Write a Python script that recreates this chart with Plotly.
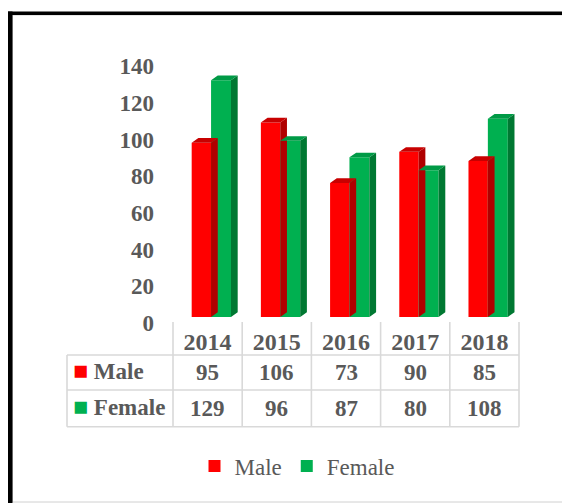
import plotly.graph_objects as go

# ---------------- data ----------------
years = ["2014", "2015", "2016", "2017", "2018"]
male = [95, 106, 73, 90, 85]
female = [129, 96, 87, 80, 108]
series_names = ["Male", "Female"]
y_ticks = [0, 20, 40, 60, 80, 100, 120, 140]

# ---------------- styling / geometry ----------------
PAGE_OFF = 8            # default page margin of the html body
W, H = 570 - PAGE_OFF, 503 - PAGE_OFF
FONT = "Liberation Serif"
GREY = "#595959"
RED, RED_TOP, RED_SIDE = "#FF0000", "#C80000", "#B00000"
GRN, GRN_TOP, GRN_SIDE = "#00B050", "#009A46", "#007832"
LINE = "#D9D9D9"

# pixel mapping (screen pixels of the reference)
X0_PX, X_UNIT = 173.0, 69.2     # screen pixel of x=-0.5, pixels per category
Y0_PX, Y_UNIT = 317.0, 1.835    # screen pixel of y=0, pixels per unit


def xu(px):
    return (px - X0_PX) / X_UNIT - 0.5


def yu(py):
    return (Y0_PX - py) / Y_UNIT


def pxx(px):
    return (px - PAGE_OFF) / W


def pxy(py):
    return 1 - (py - PAGE_OFF) / H


RED_OFF, RED_W = -0.23, 0.28
GRN_OFF, GRN_W = 0.05, 0.288
DX = 6.7 / X_UNIT
DY = 4.7 / Y_UNIT

xs = list(range(len(years)))

fig = go.Figure()


def faces(vals, off, w):
    sx, sy, tx, ty = [], [], [], []
    for c, v in zip(xs, vals):
        xl = c + off
        xr = c + off + w
        sx += [xr, xr, xr + DX, xr + DX, xr, None]
        sy += [0, v, v + DY, DY, 0, None]
        tx += [xl, xr, xr + DX, xl + DX, xl, None]
        ty += [v, v, v + DY, v + DY, v, None]
    return sx, sy, tx, ty


for name, vals, off, w, cf, ct, cs in [
    (series_names[0], male, RED_OFF, RED_W, RED, RED_TOP, RED_SIDE),
    (series_names[1], female, GRN_OFF, GRN_W, GRN, GRN_TOP, GRN_SIDE),
]:
    fig.add_trace(go.Bar(
        x=xs, y=vals, name=name, offset=off, width=w,
        marker=dict(color=cf, line=dict(width=0)), showlegend=True,
    ))
    sx, sy, tx, ty = faces(vals, off, w)
    fig.add_trace(go.Scatter(x=sx, y=sy, mode="lines", fill="toself",
                             fillcolor=cs, line=dict(width=0, color=cs),
                             showlegend=False, hoverinfo="skip"))
    fig.add_trace(go.Scatter(x=tx, y=ty, mode="lines", fill="toself",
                             fillcolor=ct, line=dict(width=0, color=ct),
                             showlegend=False, hoverinfo="skip"))

# ---------------- data table (lines + text) ----------------
x_left = xu(67)
x_right = 4.5
y_top = yu(322)
y_h = yu(355)
y_m = yu(390)
y_f = yu(426.7)

shapes = []
for yy in (y_h, y_m, y_f):
    shapes.append(dict(type="line", xref="x", yref="y", x0=x_left, x1=x_right,
                       y0=yy, y1=yy, line=dict(color=LINE, width=1.6)))
shapes.append(dict(type="line", xref="x", yref="y", x0=x_left, x1=x_left,
                   y0=y_h, y1=y_f, line=dict(color=LINE, width=1.6)))
for k in range(len(years) + 1):
    xx = k - 0.5
    shapes.append(dict(type="line", xref="x", yref="y", x0=xx, x1=xx,
                       y0=y_top, y1=y_f, line=dict(color=LINE, width=1.6)))

# frame
shapes.append(dict(type="rect", xref="paper", yref="paper",
                   x0=pxx(12.5), x1=pxx(567), y0=pxy(15), y1=pxy(502),
                   line=dict(color="#D0D0D0", width=1), layer="below"))
shapes.append(dict(type="rect", xref="paper", yref="paper",
                   x0=pxx(8), x1=pxx(570), y0=pxy(11.5), y1=pxy(15),
                   fillcolor="black", line=dict(width=0)))
shapes.append(dict(type="rect", xref="paper", yref="paper",
                   x0=pxx(8), x1=pxx(12.5), y0=pxy(11.5), y1=pxy(503),
                   fillcolor="black", line=dict(width=0)))

annotations = []
tfont = dict(family=FONT, size=23, color=GREY)
for row_vals, yc in ((male, (y_h + y_m) / 2), (female, (y_m + y_f) / 2)):
    for c, v in zip(xs, row_vals):
        annotations.append(dict(x=c, y=yc, xref="x", yref="y", text=f"<b>{v}</b>",
                                showarrow=False, font=tfont,
                                xanchor="center", yanchor="middle"))
for name, col, yc in ((series_names[0], RED, (y_h + y_m) / 2 + 1.2),
                      (series_names[1], GRN, (y_m + y_f) / 2 + 1.2)):
    annotations.append(dict(
        x=xu(71), y=yc, xref="x", yref="y",
        text=f"<span style='color:{col};font-size:25px'>■</span> <b>{name}</b>",
        showarrow=False, font=tfont, xanchor="left", yanchor="middle"))

fig.update_layout(
    width=W, height=H,
    margin=dict(l=0, r=0, t=0, b=0),
    paper_bgcolor="white", plot_bgcolor="white",
    barmode="overlay",
    xaxis=dict(range=[xu(PAGE_OFF), xu(570)], domain=[0, 1], showgrid=False,
               zeroline=False, showline=False, tickvals=xs,
               ticktext=[f"<b>{y}</b>" for y in years],
               tickfont=dict(family=FONT, size=24, color=GREY),
               anchor="free", position=pxy(325), ticks="", fixedrange=True),
    yaxis=dict(range=[yu(503), yu(PAGE_OFF)], domain=[0, 1], showgrid=False,
               zeroline=False, showline=False, tickvals=y_ticks,
               ticktext=[f"<b>{t}</b>" for t in y_ticks],
               tickfont=dict(family=FONT, size=23, color=GREY),
               anchor="free", position=pxx(154), ticks="", ticklabelshift=6,
               fixedrange=True),
    legend=dict(orientation="h", x=pxx(297), xanchor="center", y=pxy(466),
                yanchor="middle", font=dict(family=FONT, size=23, color=GREY),
                bgcolor="rgba(0,0,0,0)", traceorder="normal"),
    shapes=shapes,
    annotations=annotations,
    showlegend=True,
)

fig.write_html("out.html")
